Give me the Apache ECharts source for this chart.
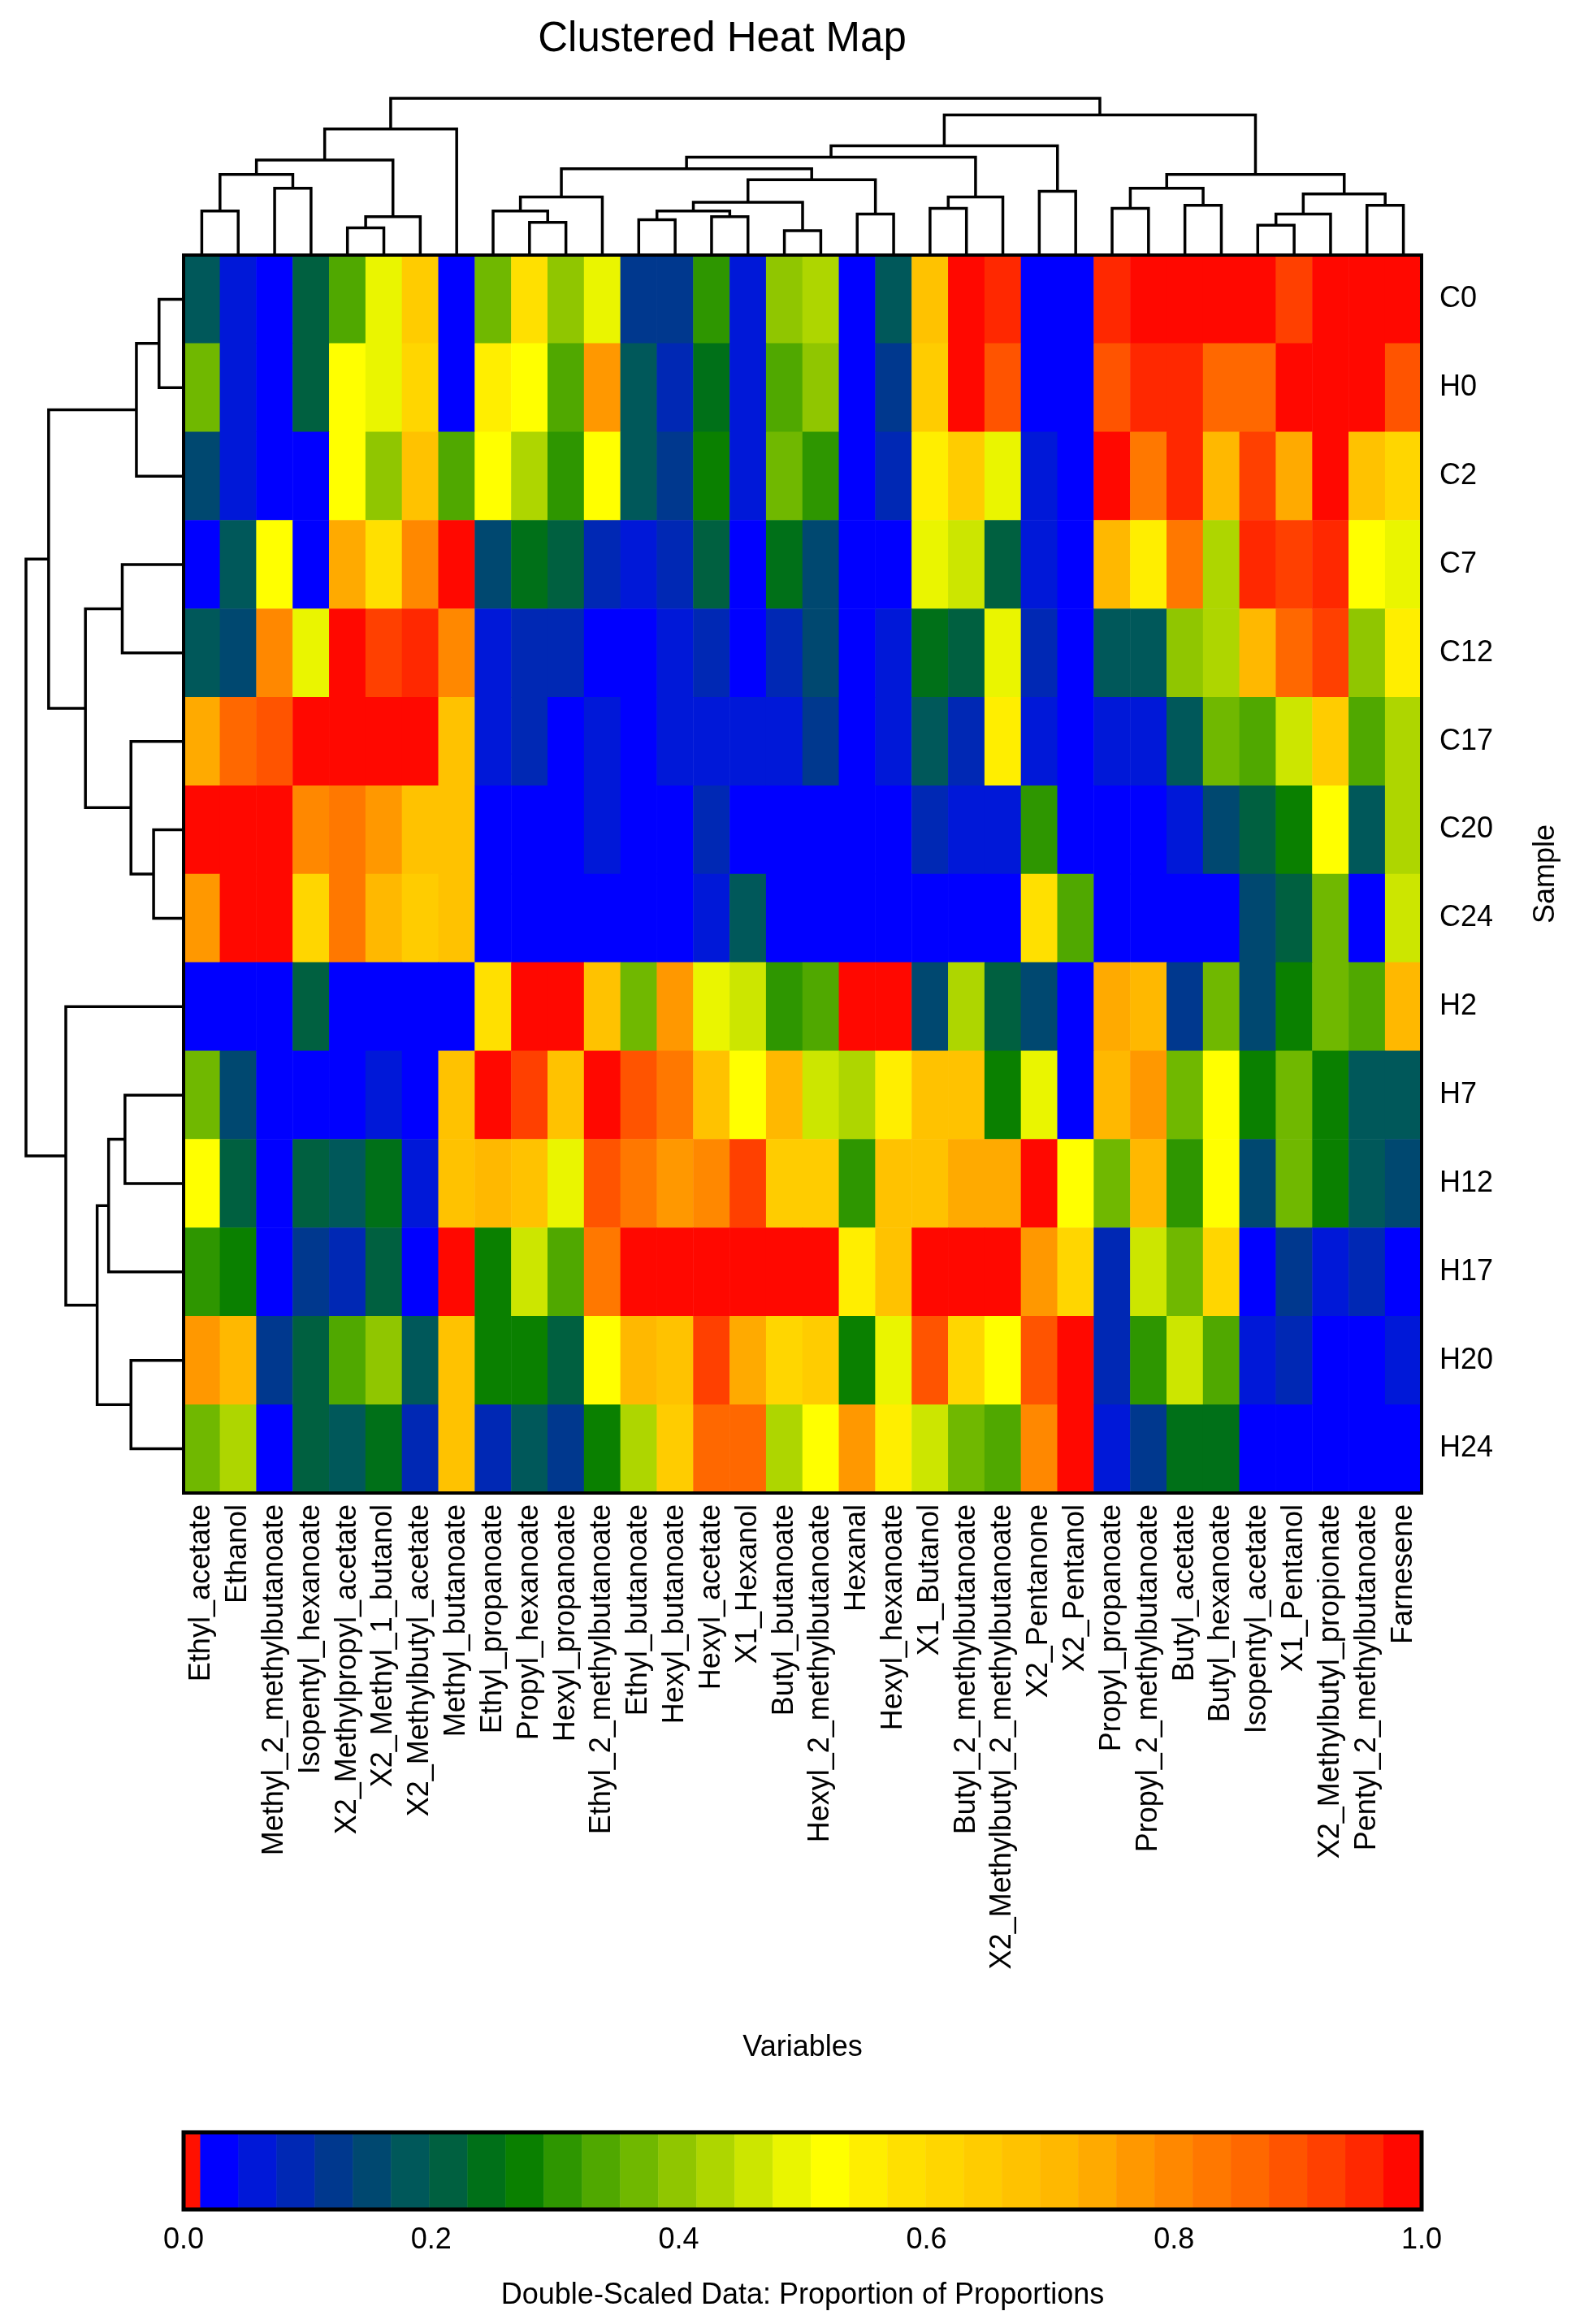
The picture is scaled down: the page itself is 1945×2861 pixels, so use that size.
<!DOCTYPE html>
<html>
<head>
<meta charset="utf-8">
<script src="https://cdn.jsdelivr.net/npm/echarts@6/dist/echarts.min.js"></script>
<style>
  html, body { margin: 0; padding: 0; background: #fff; }
  #chart { width: 1945px; height: 2861px; }
</style>
</head>
<body>
<div id="chart"></div>
<script>
// columns (variables) in dendrogram order
const variables = ['Ethyl_acetate', 'Ethanol', 'Methyl_2_methylbutanoate', 'Isopentyl_hexanoate',
    'X2_Methylpropyl_acetate', 'X2_Methyl_1_butanol', 'X2_Methylbutyl_acetate', 'Methyl_butanoate',
    'Ethyl_propanoate', 'Propyl_hexanoate', 'Hexyl_propanoate', 'Ethyl_2_methylbutanoate',
    'Ethyl_butanoate', 'Hexyl_butanoate', 'Hexyl_acetate', 'X1_Hexanol', 'Butyl_butanoate',
    'Hexyl_2_methylbutanoate', 'Hexanal', 'Hexyl_hexanoate', 'X1_Butanol', 'Butyl_2_methylbutanoate',
    'X2_Methylbutyl_2_methylbutanoate', 'X2_Pentanone', 'X2_Pentanol', 'Propyl_propanoate',
    'Propyl_2_methylbutanoate', 'Butyl_acetate', 'Butyl_hexanoate', 'Isopentyl_acetate', 'X1_Pentanol',
    'X2_Methylbutyl_propionate', 'Pentyl_2_methylbutanoate', 'Farnesene'];

// rows (samples) in dendrogram order, top to bottom
const samples = ['C0', 'H0', 'C2', 'C7', 'C12', 'C17', 'C20', 'C24', 'H2', 'H7', 'H12', 'H17', 'H20', 'H24'];

// colour band (0..31) read for each cell, one list per sample
const C0  = [5,1,0,6,10,15,20,0,11,18,12,15,3,3,9,1,12,13,0,5,21,31,30,0,0,30,31,31,31,31,29,31,31,31];
const H0  = [11,1,0,6,16,15,19,0,17,16,10,24,5,2,7,1,10,12,0,3,20,31,28,0,0,28,30,30,27,27,31,31,31,28];
const C2  = [4,1,0,0,16,12,21,10,16,13,9,16,5,3,8,1,11,9,0,2,17,20,15,1,0,31,26,30,22,29,23,31,21,19];
const C7  = [0,5,16,0,23,18,25,31,4,7,6,2,1,2,6,0,7,4,0,0,15,14,6,1,0,22,17,26,13,30,29,30,16,15];
const C12 = [5,4,25,15,31,29,30,25,1,2,2,0,0,1,2,0,2,4,0,1,7,6,15,2,0,5,5,12,13,22,27,29,12,17];
const C17 = [23,27,28,31,31,31,31,21,1,2,0,1,0,1,1,1,1,3,0,1,5,2,17,1,0,1,1,5,11,10,14,20,10,13];
const C20 = [31,31,31,25,26,24,21,21,0,0,0,1,0,0,2,0,0,0,0,0,2,1,1,9,0,0,0,1,4,6,8,16,5,13];
const C24 = [24,31,31,19,26,22,20,21,0,0,0,0,0,0,1,5,0,0,0,0,0,0,0,18,10,0,0,0,0,4,6,11,0,14];
const H2  = [0,0,0,6,0,0,0,0,18,31,31,21,11,24,15,14,9,10,31,31,4,13,6,4,0,23,22,3,11,4,8,11,10,22];
const H7  = [11,4,0,0,0,1,0,21,31,29,21,31,28,26,21,16,22,14,13,17,21,21,8,15,0,22,24,11,16,8,11,8,5,5];
const H12 = [16,6,0,6,5,7,1,21,22,21,15,28,26,24,25,29,20,20,9,21,21,23,23,31,16,11,22,9,16,4,11,8,5,4];
const H17 = [9,8,0,3,2,6,0,31,8,14,10,26,31,31,31,31,31,31,17,21,31,31,31,24,19,2,14,11,19,0,3,1,2,0];
const H20 = [24,22,3,6,10,12,5,21,8,8,6,16,22,21,29,23,19,20,8,15,28,19,16,28,31,2,9,14,10,1,2,0,0,1];
const H24 = [11,13,0,6,5,7,2,21,2,5,3,8,13,20,27,27,13,16,24,17,14,11,10,25,31,1,3,7,7,0,0,0,0,0];
const bands = [C0, H0, C2, C7, C12, C17, C20, C24, H2, H7, H12, H17, H20, H24];

// the 32 colour bands of the key, blue (0) to red (1)
const palette = ['#0000FF', '#0018D8', '#0028B4', '#00388E', '#004870', '#00585A', '#006040', '#007018',
    '#0A8000', '#2E9600', '#50A800', '#70B800', '#90C600', '#AED600', '#CCE600', '#EAF500',
    '#FFFF00', '#FFEE00', '#FFE000', '#FFD600', '#FFCC00', '#FFC200', '#FFB800', '#FFAA00',
    '#FF9800', '#FF8800', '#FF7800', '#FF6800', '#FF5400', '#FF4000', '#FF2800', '#FF0800'];

// dendrograms: [left, right, height]; plain numbers are leaf positions
const colLeft = [[[[0, 1, 162], [2, 3, 246], 297], [[4, 5, 100], 6, 141], 350], 7, 464];
const colJ = [[8, [9, 10, 120], 162], 11, 214];
const colQ = [[[[12, 13, 130], [14, 15, 141], 162], [16, 17, 90], 194], [18, 19, 151], 277];
const colT = [[20, 21, 172], 22, 214];
const colW = [[[colJ, colQ, 318], colT, 360], [23, 24, 235], 402];
const colAE = [[[25, 26, 172], [27, 28, 183], 246], [[[29, 30, 110], 31, 151], [32, 33, 183], 225], 297];
const colTree = [colLeft, [colW, colAE, 516], 577];

const rowTop = [[[0, 1, 90], 2, 173], [[3, 4, 225], [5, [6, 7, 110], 193], 360], 495];
const rowBottom = [8, [[[9, 10, 215], 11, 275], [12, 13, 193], 317], 432];
const rowTree = [rowTop, rowBottom, 578];

function segments(node, out) {
    if (typeof node === 'number') return {pos: node, h: 0};
    const a = segments(node[0], out);
    const b = segments(node[1], out);
    out.push([a.pos, a.h, a.pos, node[2], b.pos, node[2], b.pos, b.h]);
    return {pos: (a.pos + b.pos) / 2, h: node[2]};
}
const colSegs = [];
segments(colTree, colSegs);
const rowSegs = [];
segments(rowTree, rowSegs);

const heatData = [];
bands.forEach((row, r) => row.forEach((b, c) => heatData.push([c, r, (b + 0.5) / 32])));

// key: a thin red end cell, then the 32 bands
const keyRed = 0.0134;
const keyData = [[0, keyRed, '#FF1000']];
palette.forEach((col, i) => {
    const w = (1 - keyRed) / 32;
    keyData.push([keyRed + i * w, keyRed + (i + 1) * w, col]);
});

const font = 'Liberation Sans';
const fs = 36;

function dendroItem(horizontal) {
    return (params, api) => {
        const pts = [];
        for (let k = 0; k < 4; k++) {
            const p = api.value(k * 2), h = api.value(k * 2 + 1);
            pts.push(horizontal ? api.coord([p, h]) : api.coord([h, p]));
        }
        return {type: 'polyline', shape: {points: pts}, style: {stroke: '#000', lineWidth: 3.5, fill: null}};
    };
}

const myChart = echarts.init(document.getElementById('chart'));
const option = {
    backgroundColor: '#fff',
    animation: false,
    title: {
        text: 'Clustered Heat Map', left: 884, top: 18, textAlign: 'center',
        textStyle: {fontFamily: font, fontSize: 51, fontWeight: 'normal', color: '#000'}
    },
    grid: [
        {left: 226, top: 314, width: 1524, height: 1524,
            show: true, borderColor: '#000', borderWidth: 4, backgroundColor: 'transparent', z: 5},
        {left: 226, top: 121, width: 1524, height: 193},
        {left: 32, top: 314, width: 194, height: 1524},
        {left: 226, top: 2625, width: 1524, height: 95,
            show: true, borderColor: '#000', borderWidth: 5, backgroundColor: 'transparent', z: 5}
    ],
    xAxis: [
        {type: 'category', gridIndex: 0, data: variables, position: 'bottom',
            name: 'Variables', nameLocation: 'middle', nameGap: 665,
            nameTextStyle: {fontFamily: font, fontSize: fs, color: '#000'},
            axisLine: {show: false}, axisTick: {show: false},
            axisLabel: {rotate: 90, interval: 0, margin: 14, fontFamily: font, fontSize: fs, color: '#000'}},
        {type: 'value', gridIndex: 1, min: -0.5, max: 33.5, show: false},
        {type: 'value', gridIndex: 2, min: 0, max: 578, inverse: true, show: false},
        {type: 'value', gridIndex: 3, min: 0, max: 1, interval: 0.2,
            name: 'Double-Scaled Data: Proportion of Proportions', nameLocation: 'middle', nameGap: 88,
            nameTextStyle: {fontFamily: font, fontSize: fs, color: '#000'},
            axisLine: {show: false}, axisTick: {show: false}, splitLine: {show: false},
            axisLabel: {margin: 20, fontFamily: font, fontSize: fs, color: '#000',
                formatter: v => v.toFixed(1)}}
    ],
    yAxis: [
        {type: 'category', gridIndex: 0, data: samples, inverse: true, position: 'right',
            name: 'Sample', nameLocation: 'middle', nameGap: 135, nameRotate: 90,
            nameTextStyle: {fontFamily: font, fontSize: fs, color: '#000'},
            axisLine: {show: false}, axisTick: {show: false},
            axisLabel: {margin: 22, fontFamily: font, fontSize: fs, color: '#000'}},
        {type: 'value', gridIndex: 1, min: 0, max: 577, show: false},
        {type: 'value', gridIndex: 2, min: -0.5, max: 13.5, inverse: true, show: false},
        {type: 'value', gridIndex: 3, min: 0, max: 1, show: false}
    ],
    visualMap: {
        type: 'piecewise', show: false, seriesIndex: 0, dimension: 2,
        pieces: palette.map((c, i) => ({gte: i / 32, lt: (i + 1) / 32, color: c}))
    },
    series: [
        {type: 'heatmap', xAxisIndex: 0, yAxisIndex: 0, data: heatData, z: 1},
        {type: 'custom', xAxisIndex: 1, yAxisIndex: 1, data: colSegs, renderItem: dendroItem(true)},
        {type: 'custom', xAxisIndex: 2, yAxisIndex: 2, data: rowSegs, renderItem: dendroItem(false)},
        {type: 'custom', xAxisIndex: 3, yAxisIndex: 3, data: keyData,
            renderItem: (params, api) => {
                const p0 = api.coord([api.value(0), 1]);
                const p1 = api.coord([api.value(1), 0]);
                return {type: 'rect', shape: {x: p0[0], y: p0[1], width: p1[0] - p0[0] + 0.5, height: p1[1] - p0[1]},
                    style: {fill: keyData[params.dataIndex][2]}};
            }}
    ]
};
myChart.setOption(option);
</script>
</body>
</html>
